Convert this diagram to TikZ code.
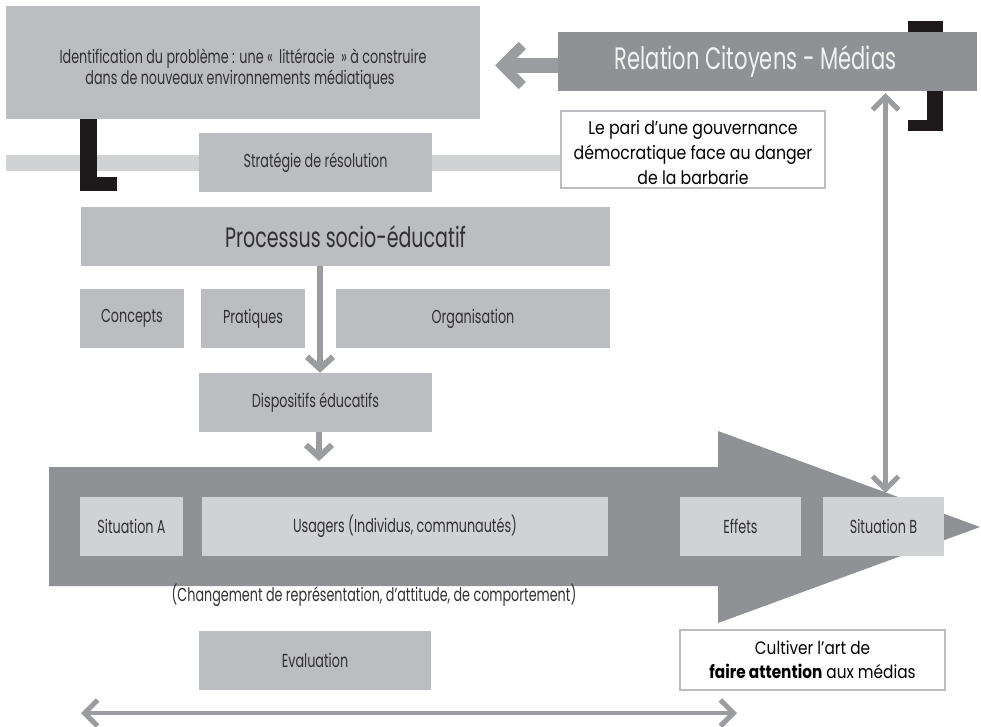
\documentclass[tikz,border=0pt]{standalone}
\usepackage{fontspec}
\setmainfont{Poppins}[FakeStretch=0.68]
\newfontfamily\parifont{Poppins}[FakeStretch=0.85]
\usetikzlibrary{arrows.meta}
\definecolor{boxgray}{RGB}{188,189,192}
\definecolor{lightgray2}{RGB}{209,210,212}
\definecolor{darkgray2}{RGB}{144,145,148}
\definecolor{arrgray}{RGB}{155,156,159}
\definecolor{txt}{RGB}{50,48,50}
\definecolor{blackish}{RGB}{30,26,28}
\tikzset{
  gbox/.style={rectangle, fill=boxgray, inner sep=0pt, text=txt, align=center,
    font=\fontsize{18.75}{21}\selectfont},
  lbox/.style={gbox, fill=lightgray2},
  wbox/.style={rectangle, fill=white, draw=boxgray, line width=2.5pt, inner sep=0pt,
    text=black, align=center, font=\parifont\fontsize{18.5}{25}\selectfont},
  midarr/.style={draw=arrgray, line width=6pt, -{Straight Barb[length=12pt, width=26pt, line width=6pt]}},
  thinarr/.style={draw=arrgray, line width=4.5pt,
    {Straight Barb[length=13pt, width=26pt, line width=5pt]}-{Straight Barb[length=13pt, width=26pt, line width=5pt]}},
  bigarr/.style={draw=arrgray, line width=15pt, -{Straight Barb[length=20pt, width=40pt, line width=10pt]}},
}
\begin{document}
\begin{tikzpicture}[x=1pt,y=-1pt]
\useasboundingbox (0,0) rectangle (981,726);
% background band
\fill[lightgray2] (6,155) rectangle (560,171);
% black brackets
\fill[blackish] (80,119) rectangle (97,191);
\fill[blackish] (80,177) rectangle (117,191);
\fill[blackish] (908,21) rectangle (943,32);
\fill[blackish] (927,21) rectangle (943,131);
\fill[blackish] (908,120) rectangle (943,131);
% big process arrow
\fill[darkgray2] (49,467) -- (718,467) -- (718,431) -- (980,527) -- (718,623) -- (718,586) -- (49,586) -- cycle;
\coordinate (bigtop) at (319,461);

% boxes
\node[gbox, minimum width=474pt, minimum height=113pt] (ident) at (243,62.5)
  {\rule{0pt}{27pt}Identification du problème : une «\,\,littéracie\,\,» à construire\\dans de nouveaux environnements médiatiques\hspace*{6pt}};
\node[gbox, fill=darkgray2, text={rgb,255:red,242;green,242;blue,242}, minimum width=419pt, minimum height=59pt,
  font=\fontsize{31}{34}\selectfont] (rel) at (767.5,61.5) {Relation Citoyens - Médias\hspace*{24pt}};
\node[gbox, minimum width=233pt, minimum height=59pt] (strat) at (315.5,162.5) {Stratégie de résolution};
\node[wbox, minimum width=264pt, minimum height=77pt] (pari) at (693,149.5)
  {\rule{0pt}{20pt}Le pari d’une gouvernance\\démocratique face au danger\\de la barbarie};
\node[gbox, minimum width=529pt, minimum height=59pt, font=\fontsize{28}{32}\selectfont] (proc) at (345.5,236.5) {Processus socio-éducatif};
\node[gbox, minimum width=104pt, minimum height=59pt] (conc) at (132,318.5) {Concepts};
\node[gbox, minimum width=104pt, minimum height=59pt] (prat) at (253,318.5) {Pratiques};
\node[gbox, minimum width=274pt, minimum height=59pt] (orga) at (473,318.5) {Organisation};
\node[gbox, minimum width=233pt, minimum height=59pt] (disp) at (315.5,402.5) {Dispositifs éducatifs};
\node[lbox, minimum width=103pt, minimum height=59pt] (sitA) at (131.5,526.5) {Situation A};
\node[lbox, minimum width=406pt, minimum height=59pt] (usag) at (405,526.5) {Usagers (Individus, communautés)};
\node[lbox, minimum width=121pt, minimum height=59pt] (eff) at (740.5,526.5) {Effets};
\node[lbox, minimum width=121pt, minimum height=59pt] (sitB) at (883.5,526.5) {Situation B};
\node[text=txt, font=\fontsize{18.75}{21}\selectfont, inner sep=0pt] (chg) at (374,595)
  {(Changement de représentation, d’attitude, de comportement)};
\node[gbox, minimum width=232pt, minimum height=59pt] (eval) at (315,660.5) {Evaluation};
\node[wbox, minimum width=265pt, minimum height=60pt, font=\parifont\fontsize{18}{24}\selectfont] (cult) at (812.5,660)
  {Cultiver l’art de\\{\bfseries faire attention} aux médias};

% connectors
\draw[bigarr, shorten >=15pt] ([yshift=-4pt]rel.west) -- ([yshift=-4pt]rel.west -| ident.east);
\draw[thinarr, shorten <=2pt, shorten >=4pt] ([xshift=2pt]sitB.north |- rel.south) -- ([xshift=2pt]sitB.north);
\draw[midarr] ([xshift=4.5pt]proc.south -| disp.north) -- ([xshift=4.5pt]disp.north);
\draw[midarr] ([xshift=3.5pt]disp.south) -- (bigtop);
\coordinate (evL) at (81,713);
\coordinate (evR) at (737,713);
\draw[thinarr] (evR) -- (evL);
\end{tikzpicture}
\end{document}
